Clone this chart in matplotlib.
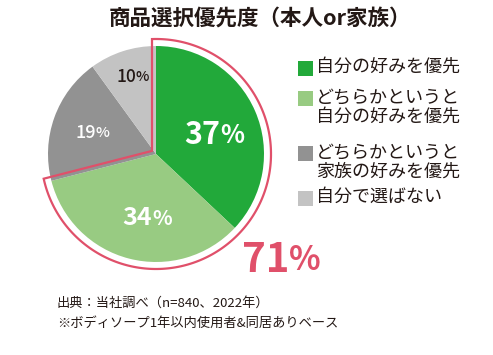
import numpy as np
import matplotlib
matplotlib.use('Agg')
from matplotlib import pyplot as plt
from matplotlib.patches import Rectangle, Polygon

plt.rcParams['font.family'] = ['Noto Sans CJK JP', 'DejaVu Sans']

# data
title = '商品選択優先度（本人or家族）'
labels = ['自分の好みを優先',
          'どちらかというと\n自分の好みを優先',
          'どちらかというと\n家族の好みを優先',
          '自分で選ばない']
values = [37, 34, 19, 10]
colors = ['#22a93a', '#98cb82', '#929292', '#c3c3c3']
highlight_n = 2          # first two slices get the pink outline
highlight_color = '#e0506a'
notes = ['出典：当社調べ（n=840、2022年）',
         '※ボディソープ1年以内使用者&同居ありベース']

W, H = 493, 355
fig = plt.figure(figsize=(W / 100, H / 100), dpi=100)
ax = fig.add_axes([0, 0, 1, 1])

cx, cy, R = 156, H - 154, 108
ax.pie(values, colors=colors, startangle=90, counterclock=False,
       center=(cx, cy), radius=R, wedgeprops=dict(linewidth=0))

# pink outline around the highlighted share, offset a little outward
frac = sum(values[:highlight_n]) / sum(values)
t2 = np.radians(90)
t1 = np.radians(90 - 360 * frac)
d, R2 = 4.0, R + 7
u1 = np.array([np.cos(t1), np.sin(t1)])
u2 = np.array([np.cos(t2), np.sin(t2)])
n1 = np.array([np.sin(t1), -np.cos(t1)])
n2 = np.array([-np.sin(t2), np.cos(t2)])
vtx = np.linalg.solve(np.array([n1, n2]), np.array([d, d]))
p1 = d * n1 + np.sqrt(R2**2 - d**2) * u1
p2 = d * n2 + np.sqrt(R2**2 - d**2) * u2
a1 = np.arctan2(p1[1], p1[0])
a2 = np.arctan2(p2[1], p2[0])
if a2 < a1:
    a2 += 2 * np.pi
arc = np.linspace(a1, a2, 200)
pts = np.vstack([vtx, np.column_stack([R2 * np.cos(arc), R2 * np.sin(arc)])])
pts += [cx, cy]
ax.add_patch(Polygon(pts, closed=True, fill=False, ec=highlight_color, lw=1.6,
                     joinstyle='miter'))

ax.set_xlim(0, W)
ax.set_ylim(0, H)
ax.set_aspect('equal')
ax.axis('off')


def pct(x, y, val, size, color, weight='bold'):
    ax.text(x, y, str(val), fontsize=size, color=color, fontweight=weight,
            ha='right', va='center')
    ax.text(x, y - size * 0.02, '%', fontsize=size * 0.82, color=color,
            fontweight=weight, ha='left', va='center')


pct(220, H - 135, values[0], 22, 'white')
pct(152, H - 218, values[1], 18, 'white')
pct(96, H - 133, values[2], 13, 'white', 'medium')
pct(136, H - 77, values[3], 12.5, '#231815', 'medium')
pct(289, H - 260, sum(values[:highlight_n]), 29, highlight_color)

ax.text(W / 2 + 13, H - 18, title, fontsize=15.5, fontweight='bold',
        color='#231815', ha='center', va='center')

# legend
row_y = [68, 98, 153, 198]
for lab, col, y in zip(labels, colors, row_y):
    ax.add_patch(Rectangle((298, H - y - 7.5), 15, 15, color=col, lw=0))
    ax.text(316, H - y + 10, lab, fontsize=13, color='#231815', ha='left',
            va='top', linespacing=1.12)

for i, s in enumerate(notes):
    ax.text(57, H - 303 - 20 * i, s, fontsize=9.5, color='#231815',
            ha='left', va='center')

fig.savefig('out.png', dpi=100)
